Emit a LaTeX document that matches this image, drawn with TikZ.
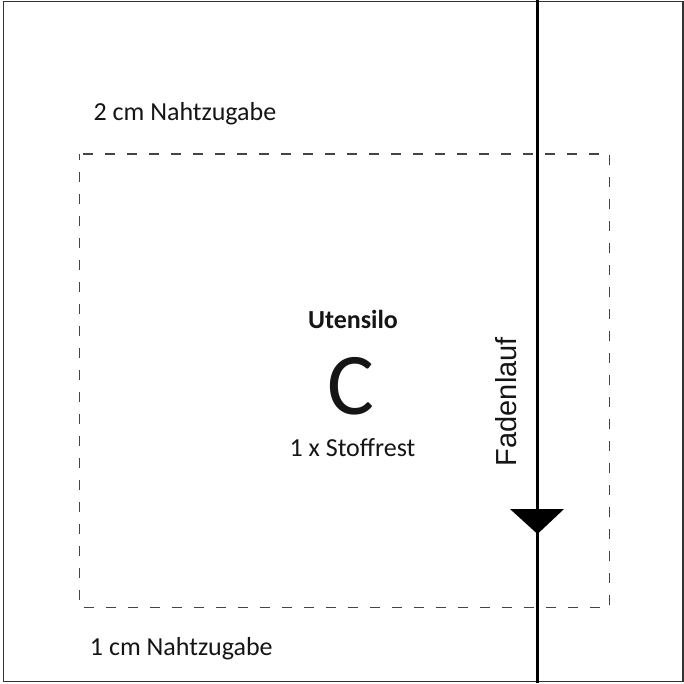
\documentclass[tikz,border=0pt]{standalone}
\usepackage{fontspec}
\setmainfont{Carlito}
\newfontfamily\arialfont{Liberation Sans}
\definecolor{framegray}{HTML}{333333}
\definecolor{dashgray}{HTML}{444444}
\definecolor{inkblack}{HTML}{151515}
\begin{document}
\begin{tikzpicture}[x=1pt,y=-1pt,
  lbl/.style={inner sep=0pt,text=inkblack,font=\fontsize{26}{30}\selectfont},
  frameline/.style={draw=framegray,line width=1.8pt},
  seamline/.style={draw=dashgray,line width=1.3pt,dash pattern=on 10pt off 12pt,dash phase=4pt},
  grainline/.style={draw=black,line width=3pt}]
\useasboundingbox (0,0) rectangle (684,683);
\draw[frameline] (3.5,1.5) rectangle (683,681.5);
\draw[seamline] (79.3,154) rectangle (609.3,607.7);
\coordinate (gtop) at (537.5,0);
\coordinate (gbot) at (537.5,683);
\draw[grainline] (gtop) -- (gbot);
\fill[black] (510,509) -- (564,509) -- (537.5,534) -- cycle;
\node[lbl,anchor=base] (top) at (184.9,120) {2 cm Nahtzugabe};
\node[lbl,anchor=base] (bottom) at (181.3,655) {1 cm Nahtzugabe};
\node[lbl,anchor=base,font=\fontsize{26}{30}\selectfont\bfseries] (title) at (353,328) {Utensilo};
\node[lbl,anchor=base,font=\fontsize{88}{92}\selectfont] (letter) at (351,414) {C};
\node[lbl,anchor=base] (count) at (352.5,456) {1 x Stoffrest};
\node[lbl,anchor=base,rotate=90,font=\fontsize{29}{32}\selectfont\arialfont] (grain) at (516.7,401.7) {Fadenlauf};
\end{tikzpicture}
\end{document}
